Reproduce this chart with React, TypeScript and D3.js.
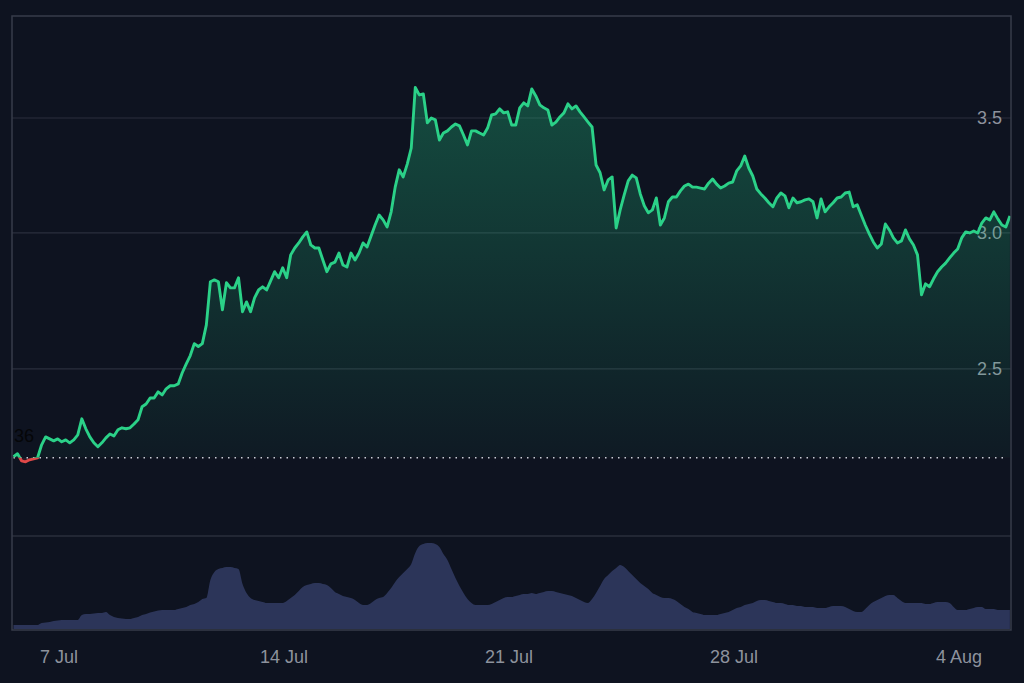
import * as d3 from "d3";

const WIDTH = 1024;
const HEIGHT = 683;

// first sample and spacing of the series (3h candles)
const START = new Date(2024, 6, 5, 14);
const STEP_HOURS = 3;

const BASELINE = 2.219;
const BASELINE_LABEL = "36";

const PRICE_TICKS = [2.5, 3.0, 3.5];

const PRICES = [
  2.222, 2.231, 2.21, 2.207, 2.213, 2.216, 2.219, 2.258, 2.282, 2.276,
  2.27, 2.276, 2.267, 2.273, 2.264, 2.273, 2.288, 2.338, 2.307, 2.282,
  2.264, 2.252, 2.264, 2.279, 2.291, 2.285, 2.304, 2.31, 2.307, 2.31,
  2.322, 2.335, 2.376, 2.385, 2.404, 2.404, 2.424, 2.414, 2.434, 2.444,
  2.444, 2.45, 2.487, 2.517, 2.545, 2.586, 2.576, 2.586, 2.652, 2.81,
  2.817, 2.81, 2.706, 2.806, 2.787, 2.787, 2.825, 2.699, 2.735, 2.699,
  2.75, 2.779, 2.791, 2.779, 2.813, 2.848, 2.825, 2.863, 2.825, 2.913,
  2.94, 2.96, 2.984, 3.004, 2.952, 2.94, 2.94, 2.893, 2.848, 2.878,
  2.885, 2.92, 2.874, 2.866, 2.92, 2.893, 2.92, 2.96, 2.944, 2.988,
  3.032, 3.073, 3.053, 3.024, 3.086, 3.19, 3.265, 3.234, 3.29, 3.362,
  3.646, 3.61, 3.615, 3.477, 3.5, 3.491, 3.398, 3.43, 3.44, 3.458,
  3.472, 3.463, 3.421, 3.376, 3.44, 3.44, 3.43, 3.421, 3.453, 3.514,
  3.519, 3.543, 3.524, 3.529, 3.467, 3.467, 3.548, 3.572, 3.557, 3.639,
  3.605, 3.562, 3.548, 3.538, 3.467, 3.481, 3.505, 3.524, 3.567, 3.543,
  3.557, 3.529, 3.505, 3.481, 3.458, 3.286, 3.252, 3.178, 3.221, 3.234,
  3.02, 3.094, 3.157, 3.217, 3.242, 3.23, 3.161, 3.111, 3.082, 3.094,
  3.144, 3.032, 3.061, 3.128, 3.148, 3.148, 3.174, 3.195, 3.203, 3.19,
  3.19, 3.186, 3.182, 3.207, 3.225, 3.203, 3.186, 3.195, 3.207, 3.212,
  3.26, 3.282, 3.326, 3.273, 3.238, 3.182, 3.161, 3.144, 3.124, 3.107,
  3.144, 3.165, 3.153, 3.103, 3.144, 3.124, 3.128, 3.136, 3.14, 3.128,
  3.061, 3.14, 3.086, 3.107, 3.124, 3.144, 3.148, 3.165, 3.169, 3.107,
  3.115, 3.073, 3.032, 2.996, 2.964, 2.94, 2.956, 3.036, 3.012, 2.98,
  2.96, 2.968, 3.012, 2.976, 2.952, 2.913, 2.761, 2.802, 2.791, 2.821,
  2.848, 2.866, 2.881, 2.901, 2.92, 2.936, 2.98, 3.004, 3.0, 3.008,
  3.0, 3.04, 3.061, 3.053, 3.086, 3.057, 3.032, 3.024, 3.069,
];

// volume, millions
const VOLUMES = [
  0.4, 0.4, 0.4, 0.4, 0.4, 0.4, 0.4, 0.6, 0.65, 0.7,
  0.8, 0.85, 0.9, 0.9, 0.9, 0.9, 0.9, 1.4, 1.5, 1.5,
  1.55, 1.6, 1.6, 1.7, 1.4, 1.2, 1.1, 1.05, 1.0, 1.0,
  1.1, 1.2, 1.4, 1.5, 1.65, 1.75, 1.85, 1.9, 1.9, 1.9,
  1.9, 2.0, 2.1, 2.2, 2.4, 2.5, 2.7, 3.0, 3.1, 4.9,
  5.7, 6.0, 6.1, 6.2, 6.2, 6.1, 6.0, 4.5, 3.6, 3.1,
  2.9, 2.8, 2.7, 2.6, 2.6, 2.6, 2.6, 2.6, 2.8, 3.1,
  3.4, 3.8, 4.2, 4.4, 4.5, 4.6, 4.6, 4.5, 4.4, 4.1,
  3.7, 3.5, 3.3, 3.2, 3.1, 2.9, 2.6, 2.4, 2.4, 2.6,
  2.9, 3.1, 3.2, 3.6, 4.1, 4.7, 5.2, 5.6, 6.0, 6.5,
  7.6, 8.3, 8.5, 8.6, 8.6, 8.5, 8.2, 7.5, 6.9, 6.0,
  5.1, 4.3, 3.6, 3.0, 2.6, 2.4, 2.4, 2.4, 2.4, 2.5,
  2.7, 2.9, 3.1, 3.2, 3.2, 3.3, 3.4, 3.5, 3.5, 3.6,
  3.5, 3.6, 3.7, 3.8, 3.8, 3.7, 3.6, 3.5, 3.4, 3.3,
  3.1, 2.9, 2.7, 2.6, 3.0, 3.6, 4.3, 5.0, 5.4, 5.8,
  6.1, 6.4, 6.2, 5.8, 5.4, 5.0, 4.6, 4.3, 4.0, 3.6,
  3.4, 3.2, 3.1, 3.1, 3.0, 2.8, 2.5, 2.2, 2.0, 1.7,
  1.6, 1.5, 1.4, 1.4, 1.4, 1.4, 1.5, 1.6, 1.7, 1.9,
  2.1, 2.2, 2.4, 2.5, 2.6, 2.8, 2.9, 2.9, 2.8, 2.7,
  2.6, 2.6, 2.5, 2.4, 2.4, 2.3, 2.3, 2.2, 2.2, 2.2,
  2.1, 2.1, 2.1, 2.2, 2.3, 2.3, 2.3, 2.2, 2.0, 1.8,
  1.7, 1.7, 2.0, 2.4, 2.7, 2.9, 3.1, 3.3, 3.4, 3.4,
  3.1, 2.8, 2.6, 2.6, 2.6, 2.6, 2.6, 2.5, 2.5, 2.6,
  2.7, 2.7, 2.7, 2.6, 2.2, 1.9, 1.9, 1.9, 2.0, 2.1,
  2.2, 2.2, 2.0, 2.0, 2.0, 1.9, 1.9, 1.9, 1.9,
];

const BG = "#0e1320";
const FRAME = "#373c49";
const GRID = "#2a2f3d";
const TEXT = "#8d929d";
const UP = "#2bd188";
const DOWN = "#e04848";
const VOL = "#2c3559";
const FONT = "'Liberation Sans', Arial, sans-serif";

const frame = { left: 12, top: 16, right: 1011, bottom: 630 };
const priceBottom = 536;
const volTop = 543;
const plotLeft = 13.5;
const plotRight = 1009.9;

export default function App() {
  const dates = PRICES.map((_, i) => d3.timeHour.offset(START, i * STEP_HOURS));
  const rows = PRICES.map((p, i) => ({ date: dates[i], price: p, vol: VOLUMES[i] }));

  const x = d3
    .scaleTime()
    .domain([dates[0], dates[dates.length - 1]])
    .range([plotLeft, plotRight]);

  const y = d3.scaleLog().domain([1.998, 4.013]).range([priceBottom, frame.top]);

  const yVol = d3
    .scaleLinear()
    .domain([0, d3.max(VOLUMES) as number])
    .range([frame.bottom - 1, volTop]);

  const yBase = y(BASELINE);

  const line = d3
    .line<(typeof rows)[number]>()
    .x((d) => x(d.date))
    .y((d) => y(d.price));

  const area = d3
    .area<(typeof rows)[number]>()
    .x((d) => x(d.date))
    .y0(yBase)
    .y1((d) => y(d.price));

  const volArea = d3
    .area<(typeof rows)[number]>()
    .x((d) => x(d.date))
    .y0(frame.bottom - 1)
    .y1((d) => yVol(d.vol))
    .curve(d3.curveMonotoneX);

  const timeTicks = x.ticks(d3.timeSunday.every(1) as d3.TimeInterval);
  const fmt = d3.timeFormat("%-d %b");

  return (
    <svg
      width={WIDTH}
      height={HEIGHT}
      style={{ position: "fixed", left: 0, top: 0, background: BG }}
      fontFamily={FONT}
    >
      <defs>
        <linearGradient id="upFill" gradientUnits="userSpaceOnUse" x1="0" x2="0" y1={y(3.65)} y2={yBase}>
          <stop offset="0" stopColor="#22c583" stopOpacity={0.32} />
          <stop offset="1" stopColor="#22c583" stopOpacity={0.04} />
        </linearGradient>
        <clipPath id="above">
          <rect x={frame.left} y={frame.top} width={frame.right - frame.left} height={yBase - frame.top} />
        </clipPath>
        <clipPath id="below">
          <rect x={frame.left} y={yBase} width={frame.right - frame.left} height={priceBottom - yBase} />
        </clipPath>
      </defs>

      <rect width={WIDTH} height={HEIGHT} fill={BG} />

      {/* price grid */}
      {PRICE_TICKS.map((t) => (
        <line key={t} x1={frame.left} x2={frame.right} y1={y(t)} y2={y(t)} stroke={GRID} strokeWidth={1.2} />
      ))}
      <line x1={frame.left} x2={frame.right} y1={priceBottom} y2={priceBottom} stroke={FRAME} strokeWidth={1.2} />

      {/* price labels sit under the line */}
      {PRICE_TICKS.map((t) => (
        <text
          key={`l${t}`}
          x={1002}
          y={y(t)}
          dy="0.36em"
          textAnchor="end"
          fontSize={18}
          fill={TEXT}
        >
          {t.toFixed(1)}
        </text>
      ))}

      {/* volume */}
      <path d={volArea(rows) ?? ""} fill={VOL} />

      {/* baseline area + line */}
      <path d={area(rows) ?? ""} fill="url(#upFill)" clipPath="url(#above)" />
      <path d={area(rows) ?? ""} fill={DOWN} fillOpacity={0.12} clipPath="url(#below)" />

      <line
        x1={plotLeft}
        x2={plotRight - 4}
        y1={yBase}
        y2={yBase}
        stroke="#c9cdd6"
        strokeWidth={1.5}
        strokeDasharray="1.5 5"
      />

      <path
        d={line(rows) ?? ""}
        fill="none"
        stroke={UP}
        strokeWidth={2.9}
        strokeLinejoin="round"
        clipPath="url(#above)"
      />
      <path
        d={line(rows) ?? ""}
        fill="none"
        stroke={DOWN}
        strokeWidth={2.9}
        strokeLinejoin="round"
        clipPath="url(#below)"
      />

      <text x={14} y={yBase - 22} dy="0.36em" fontSize={18} fill="#050608">
        {BASELINE_LABEL}
      </text>

      {/* frame */}
      <rect
        x={frame.left}
        y={frame.top}
        width={frame.right - frame.left}
        height={frame.bottom - frame.top}
        fill="none"
        stroke={FRAME}
        strokeWidth={1.5}
      />

      {/* time axis */}
      {timeTicks.map((t) => (
        <text key={+t} x={x(t)} y={657} dy="0.36em" textAnchor="middle" fontSize={18} fill={TEXT}>
          {fmt(t)}
        </text>
      ))}
    </svg>
  );
}
